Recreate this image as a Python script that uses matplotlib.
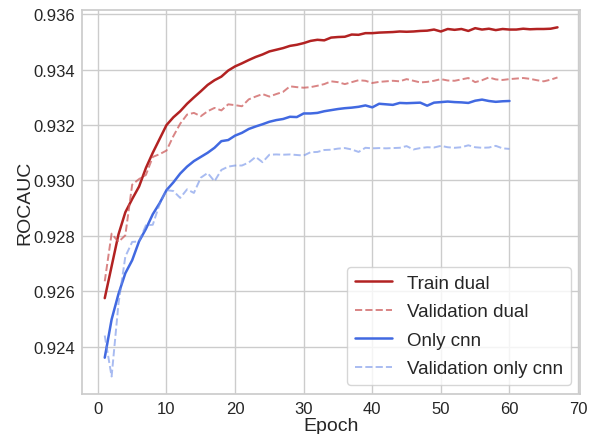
import matplotlib
matplotlib.use("Agg")
import matplotlib.pyplot as plt
import seaborn as sns
from matplotlib.ticker import FormatStrFormatter, MultipleLocator

train_dual = [
    0.92575, 0.92690, 0.92805, 0.92885, 0.92933, 0.92978, 0.93045, 0.93100, 0.93150, 0.93200,
    0.93228, 0.93250, 0.93277, 0.93300, 0.93322, 0.93345, 0.93362, 0.93375, 0.93397, 0.93412,
    0.93423, 0.93435, 0.93446, 0.93455, 0.93466, 0.93472, 0.93478, 0.93486, 0.93490, 0.93496,
    0.93504, 0.93508, 0.93506, 0.93516, 0.93518, 0.93519, 0.93527, 0.93526, 0.93532, 0.93532,
    0.93534, 0.93535, 0.93536, 0.93538, 0.93537, 0.93538, 0.93540, 0.93541, 0.93545, 0.93538,
    0.93547, 0.93544, 0.93547, 0.93540, 0.93550, 0.93545, 0.93548, 0.93543, 0.93547, 0.93545,
    0.93545, 0.93548, 0.93546, 0.93547, 0.93547, 0.93548, 0.93553,
]
val_dual = [
    0.92636, 0.92808, 0.92778, 0.92802, 0.92985, 0.93005, 0.93020, 0.93085, 0.93095, 0.93108,
    0.93160, 0.93205, 0.93238, 0.93244, 0.93232, 0.93250, 0.93262, 0.93253, 0.93275, 0.93272,
    0.93268, 0.93293, 0.93303, 0.93312, 0.93303, 0.93312, 0.93320, 0.93340, 0.93337, 0.93335,
    0.93337, 0.93342, 0.93348, 0.93358, 0.93355, 0.93348, 0.93355, 0.93362, 0.93360, 0.93352,
    0.93356, 0.93358, 0.93360, 0.93358, 0.93366, 0.93360, 0.93354, 0.93356, 0.93360, 0.93366,
    0.93361, 0.93360, 0.93365, 0.93370, 0.93355, 0.93362, 0.93372, 0.93365, 0.93363, 0.93366,
    0.93368, 0.93370, 0.93367, 0.93362, 0.93358, 0.93364, 0.93372,
]
only_cnn = [
    0.92360, 0.92498, 0.92590, 0.92665, 0.92712, 0.92780, 0.92825, 0.92878, 0.92918, 0.92965,
    0.92993, 0.93025, 0.93050, 0.93070, 0.93085, 0.93100, 0.93118, 0.93142, 0.93146, 0.93162,
    0.93172, 0.93186, 0.93195, 0.93203, 0.93212, 0.93218, 0.93222, 0.93230, 0.93229, 0.93242,
    0.93242, 0.93244, 0.93250, 0.93254, 0.93258, 0.93261, 0.93263, 0.93266, 0.93271, 0.93264,
    0.93277, 0.93275, 0.93273, 0.93280, 0.93279, 0.93280, 0.93281, 0.93270, 0.93281, 0.93283,
    0.93285, 0.93283, 0.93282, 0.93280, 0.93288, 0.93292, 0.93287, 0.93284, 0.93286, 0.93287,
]
val_only_cnn = [
    0.92440, 0.92292, 0.92555, 0.92725, 0.92778, 0.92780, 0.92838, 0.92840, 0.92915, 0.92965,
    0.92962, 0.92937, 0.92968, 0.92955, 0.93010, 0.93027, 0.92997, 0.93038, 0.93050, 0.93054,
    0.93054, 0.93065, 0.93085, 0.93066, 0.93093, 0.93094, 0.93093, 0.93094, 0.93092, 0.93090,
    0.93102, 0.93103, 0.93110, 0.93111, 0.93115, 0.93117, 0.93112, 0.93103, 0.93118, 0.93116,
    0.93117, 0.93116, 0.93117, 0.93118, 0.93124, 0.93112, 0.93117, 0.93120, 0.93119, 0.93125,
    0.93120, 0.93118, 0.93120, 0.93127, 0.93120, 0.93118, 0.93119, 0.93125, 0.93116, 0.93114,
]
labels = ["Train dual", "Validation dual", "Only cnn", "Validation only cnn"]

sns.set_theme(style="whitegrid")
plt.rcParams['font.family'] = ['Liberation Sans', 'DejaVu Sans']

fig = plt.figure(figsize=(5.95, 4.35), dpi=100)
ax = fig.add_axes([0.138, 0.092, 0.837, 0.883])

ep_dual = list(range(1, len(train_dual) + 1))
ep_cnn = list(range(1, len(only_cnn) + 1))

ax.plot(ep_dual, train_dual, color="#b22222", lw=1.8, label=labels[0])
ax.plot(ep_dual, val_dual, color="#cd5c5c", lw=1.4, ls="--", alpha=0.75, label=labels[1])
ax.plot(ep_cnn, only_cnn, color="#4169e1", lw=1.8, label=labels[2])
ax.plot(ep_cnn, val_only_cnn, color="#6f8fe8", lw=1.4, ls="--", alpha=0.6, label=labels[3])

ax.yaxis.set_major_locator(MultipleLocator(0.002))
ax.yaxis.set_major_formatter(FormatStrFormatter('%.3f'))
ax.xaxis.set_major_locator(MultipleLocator(10))
ax.tick_params(axis='x', labelsize=12, pad=5, length=0)
ax.tick_params(axis='y', labelsize=12, pad=5, length=0)
ax.set_xlabel("Epoch", fontsize=14, labelpad=1)
ax.set_ylabel("ROCAUC", fontsize=14, labelpad=0)
ax.legend(loc="lower right", fontsize=13.5, labelspacing=0.6)

fig.savefig("out.png", dpi=100)
